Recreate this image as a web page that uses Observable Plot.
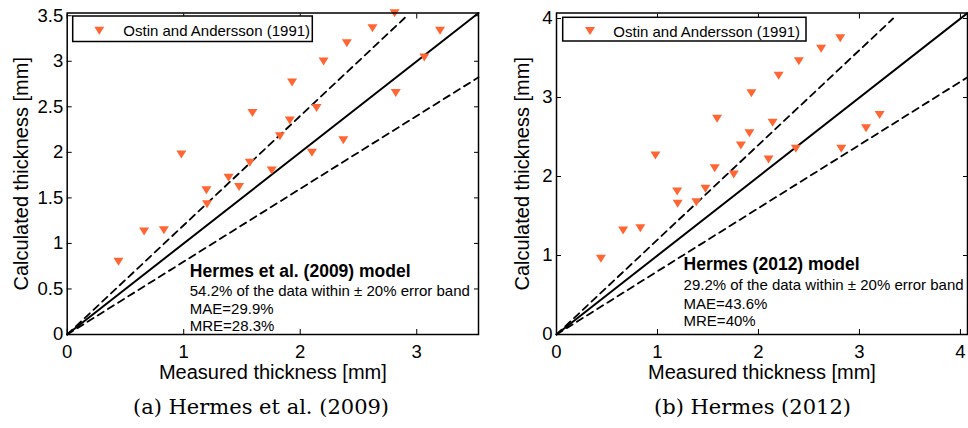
<!DOCTYPE html>
<html>
<head>
<meta charset="utf-8">
<script src="https://cdn.jsdelivr.net/npm/d3@7"></script>
<script src="https://cdn.jsdelivr.net/npm/@observablehq/plot@0.6"></script>
<style>
  body { margin: 0; background: #fff; }
  #root { position: relative; width: 968px; height: 428px; overflow: hidden; background: #fff; }
  .panel { position: absolute; top: 0; }
  #overlay { position: absolute; left: 0; top: 0; pointer-events: none; }
</style>
</head>
<body>
<div id="root"></div>
<script>
// ---------- data ----------
const seriesName = "Ostin and Andersson (1991)";
const measured = [0.44, 0.66, 0.83, 0.98, 1.195, 1.20, 1.385, 1.475, 1.567, 1.59, 1.755, 1.826,
                  1.91, 1.93, 2.10, 2.14, 2.20, 2.37, 2.40, 2.62, 2.81, 2.82, 3.065, 3.20];
const calc2009 = [0.80, 1.13, 1.146, 1.977, 1.583, 1.43, 1.721, 1.619, 1.885, 2.432, 1.802, 2.177,
                  2.349, 2.768, 1.995, 2.487, 2.998, 2.133, 3.198, 3.362, 3.526, 2.651, 3.042, 3.334];
const calc2012 = [0.958, 1.316, 1.346, 2.266, 1.81, 1.654, 1.675, 1.844, 2.105, 2.73, 2.025, 2.392,
                  2.548, 3.054, 2.215, 2.68, 3.275, 2.35, 3.46, 3.616, 3.75, 2.35, 2.61, 2.78];
const bandFactors = [1, 1.2, 0.8];
const ticksA = [0, 0.5, 1, 1.5, 2, 2.5, 3, 3.5];
const ticksAx = [0, 1, 2, 3];
const ticksB = [0, 1, 2, 3, 4];
const axisMaxA = 3.53;
const axisMaxB = 4.07;
const textA = ["Hermes et al. (2009) model", "54.2% of the data within \u00b1 20% error band", "MAE=29.9%", "MRE=28.3%"];
const textB = ["Hermes (2012) model", "29.2% of the data within \u00b1 20% error band", "MAE=43.6%", "MRE=40%"];
const textPosA = [1.052, 0.635];
const textPosB = [1.258, 0.819];
const captions = ["(a) Hermes et al. (2009)", "(b) Hermes (2012)"];
const xLabel = "Measured thickness [mm]";
const yLabel = "Calculated thickness [mm]";

// ---------- helpers ----------
const COLOR = "#ff6633";
const FONT = "'Liberation Sans', Arial, Helvetica, sans-serif";
const triDown = {
  draw(ctx, size) {
    const r = Math.sqrt(size / Math.PI);
    const h = r * 0.8;
    ctx.moveTo(-r, -h); ctx.lineTo(r, -h); ctx.lineTo(0, h); ctx.closePath();
  }
};
const fmt = d3.format("~g");

function bandLines(axisMax, lastTick) {
  const rows = [];
  bandFactors.forEach((f, i) => {
    const xEnd = f > 1 ? Math.min(axisMax, lastTick / f) : axisMax;
    rows.push({k: i, f, x: 0, y: 0});
    rows.push({k: i, f, x: xEnd, y: xEnd * f});
  });
  return rows;
}

function panel({width, marginLeft, marginRight, axisMax, xTicks, yTicks, calc, texts, textPos, yLabelOffset}) {
  const pts = measured.map((m, i) => ({x: m, y: calc[i]}));
  const lines = bandLines(axisMax, yTicks[yTicks.length - 1]);
  const textRows = texts.map((t, i) => ({t, i}));
  return Plot.plot({
    width, height: 385,
    marginLeft, marginRight, marginTop: 12.5, marginBottom: 51,
    style: {fontFamily: FONT, color: "#000", background: "transparent", overflow: "visible"},
    x: {domain: [0, axisMax]},
    y: {domain: [0, axisMax]},
    marks: [
      Plot.line(lines.filter(d => d.f === 1), {x: "x", y: "y", z: "k", stroke: "#000", strokeWidth: 2}),
      Plot.line(lines.filter(d => d.f !== 1), {x: "x", y: "y", z: "k", stroke: "#000", strokeWidth: 1.8, strokeDasharray: "7,5"}),
      Plot.dot(pts, {x: "x", y: "y", symbol: triDown, r: 5, fill: COLOR, stroke: "none"}),
      Plot.text(textRows.filter(d => d.i === 0), {x: () => textPos[0], y: () => textPos[1], text: "t", textAnchor: "start", lineAnchor: "bottom", fontWeight: "bold", fontSize: 17.5, fill: "#000"}),
      Plot.text(textRows.filter(d => d.i > 0), {x: () => textPos[0], y: () => textPos[1], text: "t", textAnchor: "start", lineAnchor: "bottom", fontSize: 15, fill: "#000"}),
      Plot.frame({stroke: "#000", strokeWidth: 1.5}),
      Plot.axisX({ticks: xTicks, tickSize: 0, tickPadding: 10, tickFormat: fmt, label: null, fontSize: 18.5}),
      Plot.axisX({ticks: xTicks, tickSize: 0, tickFormat: () => "", label: xLabel, labelAnchor: "center", labelArrow: "none", labelOffset: 44.5, fontSize: 20}),
      Plot.axisX({ticks: xTicks, tickSize: -5, tickFormat: () => "", label: null, strokeWidth: 1}),
      Plot.axisX({ticks: xTicks, anchor: "top", tickSize: -5, tickFormat: () => "", label: null, strokeWidth: 1}),
      Plot.axisY({ticks: yTicks, tickSize: 0, tickPadding: 4, tickFormat: fmt, label: null, fontSize: 18.5}),
      Plot.axisY({ticks: yTicks, tickSize: 0, tickFormat: () => "", label: yLabel, labelAnchor: "center", labelArrow: "none", labelOffset: yLabelOffset, fontSize: 20}),
      Plot.axisY({ticks: yTicks, tickSize: -5, tickFormat: () => "", label: null, strokeWidth: 1}),
      Plot.axisY({ticks: yTicks, anchor: "right", tickSize: -5, tickFormat: () => "", label: null, strokeWidth: 1})
    ]
  });
}

const root = document.getElementById("root");

const left = panel({width: 490, marginLeft: 66.7, marginRight: 12, axisMax: axisMaxA, xTicks: ticksAx, yTicks: ticksA,
  calc: calc2009, texts: textA, textPos: textPosA, yLabelOffset: 53});
left.classList.add("panel"); left.style.left = "0px";
root.appendChild(left);

const right = panel({width: 478, marginLeft: 66, marginRight: 1, axisMax: axisMaxB, xTicks: ticksB, yTicks: ticksB,
  calc: calc2012, texts: textB, textPos: textPosB, yLabelOffset: 42});
right.classList.add("panel"); right.style.left = "490px";
root.appendChild(right);

// per-line vertical offsets of the annotation body lines
function shiftLines(svg, dys) {
  const groups = svg.querySelectorAll("g[aria-label='text']");
  const g = groups[1];
  if (!g) return;
  g.querySelectorAll("text").forEach((t, i) => {
    const cur = t.getAttribute("transform") || "";
    t.setAttribute("transform", cur + ` translate(0,${dys[i]})`);
  });
}
shiftLines(left, [19.5, 37, 54.5]);
shiftLines(right, [20.5, 39, 56.5]);

// ---------- legends & captions overlay ----------
const ns = "http://www.w3.org/2000/svg";
const ov = document.createElementNS(ns, "svg");
ov.setAttribute("id", "overlay");
ov.setAttribute("width", 968); ov.setAttribute("height", 428);
root.appendChild(ov);
function el(tag, attrs, text) {
  const e = document.createElementNS(ns, tag);
  for (const k in attrs) e.setAttribute(k, attrs[k]);
  if (text != null) e.textContent = text;
  ov.appendChild(e);
  return e;
}
const legends = [
  {x: 72.7, y: 16, w: 239.6, h: 25.5, mx: 99.3, my: 30.7, tx: 123.3, ty: 36},
  {x: 562.7, y: 17.3, w: 243.3, h: 23.7, mx: 590, my: 31, tx: 613.3, ty: 36.5}
];
legends.forEach(L => {
  el("rect", {x: L.x, y: L.y, width: L.w, height: L.h, fill: "#fff", stroke: "#000", "stroke-width": 1.5});
  el("path", {d: `M${L.mx - 5},${L.my - 4}L${L.mx + 5},${L.my - 4}L${L.mx},${L.my + 4}Z`, fill: COLOR});
  el("text", {x: L.tx, y: L.ty, "font-family": FONT, "font-size": 15, fill: "#000"}, seriesName);
});
[[261, 414], [752.5, 414]].forEach(([cx, cy], i) => {
  el("text", {x: cx, y: cy, "text-anchor": "middle", "font-family": "'DejaVu Serif', serif", "font-size": 21, fill: "#000"}, captions[i]);
});
</script>
</body>
</html>
